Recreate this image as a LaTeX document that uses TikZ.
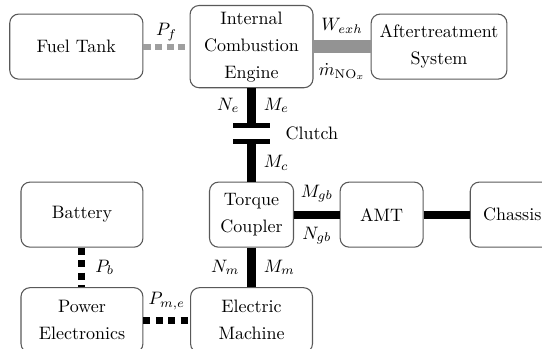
\documentclass[tikz,border=0pt]{standalone}
\tikzset{
    block/.style = {
      draw=black!65,
      line width=0.6pt,
      rounded corners=5pt,
      align=center,
      minimum height=1.27cm,
      font=\linespread{1.25}\selectfont
    },
    plate/.style = {
      fill=black,
      inner sep=0pt,
      minimum width=0.74cm,
      minimum height=2.8pt
    },
    lbl/.style = {
      inner sep=1.5pt,
      text=black
    },
    shaft/.style = {
      line width=4.6pt
    },
    fuel/.style = {
      draw=gray!75,
      line width=3.2pt,
      dash pattern=on 4pt off 2.4pt
    },
    exhaust/.style = {
      draw=gray!85,
      line width=7.6pt
    },
    elec/.style = {
      line width=3.9pt,
      dash pattern=on 3.9pt off 3pt
    },
}
\begin{document}
\begin{tikzpicture}
	    \clip (0,0) rectangle (10.58,-6.81);

	    \node[block, minimum width=2.60cm] (TANK) at (1.49, -0.91) {Fuel Tank};
	    \node[block, minimum width=2.40cm, minimum height=1.52cm] (ICE) at (4.91, -0.91) {Internal\\Combustion\\Engine};
	    \node[block, minimum width=2.65cm] (ATS) at (8.57, -0.91) {Aftertreatment\\System};

	    \node[plate] (CLUTCHA) at (4.91, -2.45) {};
	    \node[plate] (CLUTCHB) at (4.91, -2.76) {};
	    \node (CLUTCH) at (6.09, -2.61) {Clutch};

	    \node[block, minimum width=1.64cm] (TC) at (4.91, -4.19) {Torque\\Coupler};
	    \node[block, minimum width=1.62cm] (AMT) at (7.45, -4.19) {AMT};
	    \node[block, minimum width=1.64cm] (CHASSIS) at (10.0, -4.19) {Chassis};
	    \node[block, minimum width=2.38cm] (BAT) at (1.60, -4.19) {Battery};

	    \node[block, minimum width=2.38cm] (PE) at (1.60, -6.25) {Power\\Electronics};
	    \node[block, minimum width=2.38cm] (EM) at (4.91, -6.25) {Electric\\Machine};

	    % fuel and exhaust
	    \draw[fuel] (TANK) -- node[lbl, above=0pt] {$P_f$} (ICE);
	    \draw[exhaust] (ICE) -- node[lbl, above=2pt] {$W_{exh}$}
	                   node[lbl, below=4pt] {$\dot{m}_{\mathrm{NO}_x}$} (ATS);

	    % mechanical
	    \draw[shaft] (ICE) -- node[lbl, left=3pt] {$N_e$} node[lbl, right=3pt] {$M_e$} (CLUTCHA);
	    \draw[shaft] (CLUTCHB) -- node[lbl, right=3pt] {$M_c$} (TC);
	    \draw[shaft] (TC) -- node[lbl, above=3pt] {$M_{gb}$} node[lbl, below=3pt] {$N_{gb}$} (AMT);
	    \draw[shaft] (AMT) -- (CHASSIS);
	    \draw[shaft] (TC) -- node[lbl, left=3pt] {$N_m$} node[lbl, right=3pt] {$M_m$} (EM);

	    % electrical
	    \draw[elec] (BAT) -- node[lbl, right=4pt] {$P_b$} (PE);
	    \draw[elec] (PE) -- node[lbl, above=2.5pt] {$P_{m,e}$} (EM);
\end{tikzpicture}
\end{document}
